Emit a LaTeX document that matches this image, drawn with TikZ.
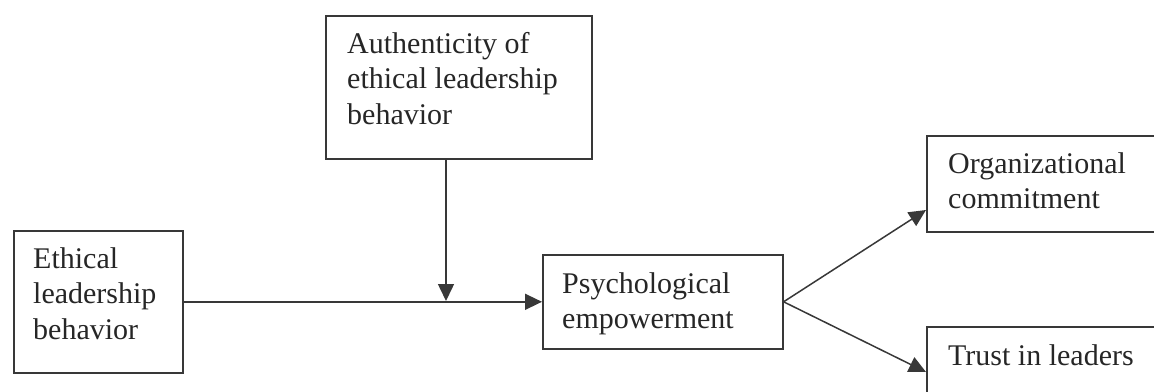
\documentclass[tikz,border=0pt]{standalone}
\usepackage{fontspec}
\setmainfont{Liberation Serif}
\usetikzlibrary{arrows.meta}
\begin{document}
\begin{tikzpicture}[x=1pt,y=-1pt,
  box/.style={draw=black!78, line width=1.6pt, rectangle, inner sep=0pt, anchor=north west},
  lbl/.style={anchor=north west, inner sep=0pt, align=left, text=black!85,
              font=\fontsize{30}{35.5}\selectfont},
  conn/.style={draw=black!78, line width=1.5pt, -{Triangle[length=17pt,width=16pt]}}]
\useasboundingbox (0,0) rectangle (1154,391);
\clip (0,0) rectangle (1154,391);
% boxes
\node[box, minimum width=169pt, minimum height=142pt] (eth) at (13,230) {};
\node[box, minimum width=266pt, minimum height=143pt] (auth) at (325,15) {};
\node[box, minimum width=240pt, minimum height=94pt] (psy) at (542,254) {};
\node[box, minimum width=254pt, minimum height=96pt] (org) at (926,135) {};
\node[box, minimum width=254pt, minimum height=94pt] (tru) at (926,326) {};
% labels
\node[lbl] (ethT) at (33,230) {\rule{0pt}{38pt}Ethical\\leadership\\behavior};
\node[lbl] (authT) at (347,15) {\rule{0pt}{38pt}Authenticity of\\ethical leadership\\behavior};
\node[lbl] (psyT) at (562,254) {\rule{0pt}{39pt}Psychological\\empowerment};
\node[lbl] (orgT) at (948,135) {\rule{0pt}{38pt}Organizational\\commitment};
\node[lbl] (truT) at (948,326) {\rule{0pt}{39pt}Trust in leaders};
% coordinates
\coordinate (mod) at (446,301);
\coordinate (orgin) at (926,210);
\coordinate (truin) at (926,372);
% connectors
\draw[conn] (eth.east) -- (psy.west);
\draw[conn] (auth.south -| mod) -- (mod);
\draw[conn] (psy.east) -- (orgin);
\draw[conn] (psy.east) -- (truin);
\end{tikzpicture}
\end{document}
